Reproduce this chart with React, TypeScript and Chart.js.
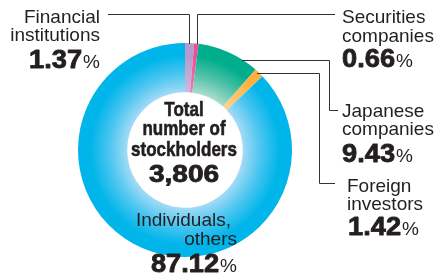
import React, { useEffect, useRef } from "react";
import { Chart, registerables } from "chart.js";

Chart.register(...registerables);

const categories = [
  "Financial institutions",
  "Securities companies",
  "Japanese companies",
  "Foreign investors",
  "Individuals, others",
];
const shares = [1.37, 0.66, 9.43, 1.42, 87.12];
const shareLabels = ["1.37", "0.66", "9.43", "1.42", "87.12"];
const totalLabel = ["Total", "number of", "stockholders"];
const totalValue = "3,806";
const outerColors = ["#b39ccd", "#ec4f97", "#00ad8c", "#fbb040", "#00b5ea"];
const midColors = ["#bfaad6", "#ee66a5", "#55c3a9", "#fcc366", "#4fc6f0"];
const innerColors = ["#cbbbe0", "#f27fb4", "#a9ddcd", "#fdd494", "#a3dbf6"];

const FONT = '"Liberation Sans", Arial, Helvetica, sans-serif';
const TXT = "#231f20";

function heavyText(ctx: CanvasRenderingContext2D, t: string, x: number, y: number, w: number) {
  ctx.fillText(t, x, y);
  ctx.lineWidth = w;
  ctx.strokeStyle = TXT;
  ctx.lineJoin = "round";
  ctx.strokeText(t, x, y);
}

function drawPct(ctx: CanvasRenderingContext2D, num: string, x: number, y: number, align: "left" | "right") {
  const sx = 1.09;
  ctx.font = `bold 25px ${FONT}`;
  const wn = ctx.measureText(num).width * sx;
  ctx.font = `19px ${FONT}`;
  const wp = ctx.measureText("%").width;
  const start = align === "left" ? x : x - wn - wp - 1;
  ctx.save();
  ctx.translate(start, y);
  ctx.scale(sx, 1);
  ctx.font = `bold 25px ${FONT}`;
  ctx.textAlign = "left";
  heavyText(ctx, num, 0, 0, 0.8);
  ctx.restore();
  ctx.font = `19px ${FONT}`;
  ctx.textAlign = "left";
  ctx.fillText("%", start + wn + 1, y);
}

const labelPlugin = {
  id: "labelsAndLeaders",
  afterDraw(chart: any) {
    const ctx: CanvasRenderingContext2D = chart.ctx;
    ctx.save();
    ctx.strokeStyle = "#333333";
    ctx.lineWidth = 1;
    const lines: number[][][] = [
      [[108, 14.5], [189.5, 14.5], [189.5, 44]],
      [[197.5, 44], [197.5, 14.5], [335, 14.5]],
      [[242, 60.5], [329.5, 60.5], [329.5, 110.5], [338, 110.5]],
      [[257, 73.5], [319.5, 73.5], [319.5, 183.5], [335, 183.5]],
    ];
    for (const pts of lines) {
      ctx.beginPath();
      ctx.moveTo(pts[0][0], pts[0][1]);
      for (let i = 1; i < pts.length; i++) ctx.lineTo(pts[i][0], pts[i][1]);
      ctx.stroke();
    }
    ctx.fillStyle = TXT;
    ctx.textBaseline = "alphabetic";
    ctx.font = `19px ${FONT}`;
    ctx.textAlign = "right";
    ctx.fillText("Financial", 100, 23);
    ctx.fillText("institutions", 100, 41);
    drawPct(ctx, shareLabels[0], 100, 68, "right");
    ctx.font = `19px ${FONT}`;
    ctx.textAlign = "left";
    ctx.fillText("Securities", 342, 23);
    ctx.fillText("companies", 342, 42);
    drawPct(ctx, shareLabels[1], 342, 67, "left");
    ctx.font = `19px ${FONT}`;
    ctx.textAlign = "left";
    ctx.fillText("Japanese", 342, 117);
    ctx.fillText("companies", 342, 135);
    drawPct(ctx, shareLabels[2], 342, 162, "left");
    ctx.font = `19px ${FONT}`;
    ctx.textAlign = "left";
    ctx.fillText("Foreign", 347, 192);
    ctx.fillText("investors", 347, 210);
    drawPct(ctx, shareLabels[3], 348, 235, "left");
    ctx.font = `19px ${FONT}`;
    ctx.textAlign = "right";
    ctx.fillText("Individuals,", 231, 226);
    ctx.fillText("others", 237, 245);
    drawPct(ctx, shareLabels[4], 237, 272, "right");
    const cx = 184;
    const ys = [116, 135, 156];
    ctx.textAlign = "center";
    totalLabel.forEach((t, i) => {
      ctx.save();
      ctx.translate(cx, ys[i]);
      ctx.scale(0.81, 1);
      ctx.font = `bold 21px ${FONT}`;
      heavyText(ctx, t, 0, 0, 0.6);
      ctx.restore();
    });
    ctx.save();
    ctx.translate(cx, 182);
    ctx.scale(1.22, 1);
    ctx.font = `bold 23px ${FONT}`;
    heavyText(ctx, totalValue, 0, 0, 0.8);
    ctx.restore();
    ctx.restore();
  },
};

export default function App() {
  const ref = useRef<HTMLCanvasElement>(null);
  useEffect(() => {
    if (!ref.current) return;
    const chart = new Chart(ref.current, {
      type: "doughnut",
      data: {
        labels: categories,
        datasets: [
          {
            data: shares,
            borderWidth: 0,
            backgroundColor: (c: any) => {
              const chart = c.chart;
              const area = chart.chartArea;
              const i = c.dataIndex;
              if (!area) return outerColors[i];
              const cx = (area.left + area.right) / 2;
              const cy = (area.top + area.bottom) / 2;
              const r = Math.min(area.right - area.left, area.bottom - area.top) / 2;
              const g = chart.ctx.createRadialGradient(cx, cy, r * 0.54, cx, cy, r);
              g.addColorStop(0, innerColors[i]);
              g.addColorStop(0.35, midColors[i]);
              g.addColorStop(0.75, outerColors[i]);
              g.addColorStop(1, outerColors[i]);
              return g;
            },
          },
        ],
      },
      options: {
        animation: false,
        responsive: false,
        cutout: "54%",
        rotation: 0,
        layout: { padding: { left: 78, right: 149, top: 43, bottom: 18 } },
        plugins: { legend: { display: false }, tooltip: { enabled: false } },
      },
      plugins: [labelPlugin],
    });
    return () => chart.destroy();
  }, []);
  return (
    <div style={{ position: "absolute", left: 0, top: 0, width: 441, height: 275, background: "#fff" }}>
      <canvas ref={ref} width={441} height={275} />
    </div>
  );
}
